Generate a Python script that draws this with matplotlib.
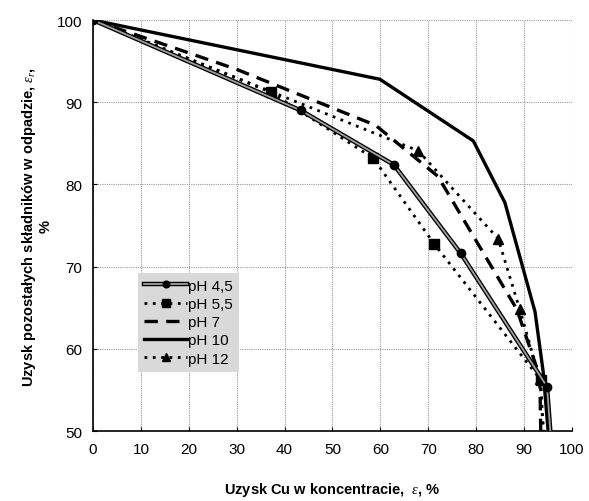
import numpy as np
import matplotlib
matplotlib.use("Agg")
import matplotlib.pyplot as plt

plt.rcParams['font.family'] = ['Liberation Sans', 'DejaVu Sans']
plt.rcParams['mathtext.fontset'] = 'custom'
plt.rcParams['mathtext.it'] = 'Liberation Serif:italic'

# Cu recovery in concentrate (x) vs recovery of other components in tailings (y)
ph45_x = [0, 43.4, 62.8, 76.8, 94.8, 96.0]
ph45_y = [100, 89.0, 82.4, 71.6, 55.4, 46.0]

ph55_x = [0, 37.2, 58.5, 71.2, 93.5, 94.2]
ph55_y = [100, 91.2, 83.2, 72.8, 56.2, 46.0]

ph7_x = [0, 30.0, 59.0, 72.0, 88.5, 93.3, 93.6]
ph7_y = [100, 94.0, 87.2, 81.0, 64.8, 56.6, 46.0]

ph10_x = [0, 59.9, 79.4, 86.0, 92.3, 94.0, 95.6]
ph10_y = [100, 92.8, 85.3, 77.8, 64.5, 57.2, 46.0]

ph12_x = [0, 67.9, 84.6, 89.1, 93.3, 94.6]
ph12_y = [100, 84.1, 73.4, 64.8, 56.3, 46.0]

labels = ["pH 4,5", "pH 5,5", "pH 7", "pH 10", "pH 12"]

fig = plt.figure(figsize=(5.89, 5.02), dpi=100)
ax = fig.add_axes([0.158, 0.1394, 0.813, 0.8186])

# pH 4,5: double line (black outline, grey core) with circles
l45a, = ax.plot(ph45_x, ph45_y, color='black', lw=3.2, zorder=3)
l45b, = ax.plot(ph45_x, ph45_y, color='#a0a0a0', lw=1.3, zorder=4)
l45m, = ax.plot(ph45_x[:-1], ph45_y[:-1], ls='none', marker='o', ms=6,
                color='black', zorder=5)

l55, = ax.plot(ph55_x, ph55_y, color='black', lw=2, ls=(0, (1, 2)),
               marker='s', ms=6.5, markevery=list(range(1, 5)), zorder=3)
l7, = ax.plot(ph7_x, ph7_y, color='black', lw=2.4, ls=(0, (4, 2.5)), zorder=3)
l10, = ax.plot(ph10_x, ph10_y, color='black', lw=2.4, zorder=3)
l12, = ax.plot(ph12_x, ph12_y, color='black', lw=2, ls=(0, (1, 2)),
               marker='^', ms=6.5, markevery=list(range(1, 5)), zorder=3)

ax.set_xlim(0, 100)
ax.set_ylim(50, 100)
ax.set_xticks(np.arange(0, 101, 10))
ax.set_yticks(np.arange(50, 101, 10))
ax.tick_params(direction='in', length=3, labelsize=11, colors='black', pad=8)
ax.grid(True, color='#999999', ls=(0, (1, 1)), lw=0.8)
ax.spines['top'].set_visible(False)
ax.spines['right'].set_visible(False)
for s in ('left', 'bottom'):
    ax.spines[s].set_linewidth(1.2)

ax.set_xlabel(r"Uzysk Cu w koncentracie,  $\it{\varepsilon}$, %",
              fontsize=10.5, fontweight='bold', labelpad=17)
ax.set_ylabel("Uzysk pozostałych składników w odpadzie, $\\it{\\varepsilon_r}$,\n%",
              fontsize=10.5, fontweight='bold', labelpad=3, linespacing=1.0)

leg = ax.legend([(l45a, l45b, l45m), l55, l7, l10, l12], labels,
                loc='lower left', bbox_to_anchor=(0.094, 0.144),
                borderaxespad=0, fontsize=11, frameon=True, fancybox=False,
                handlelength=2.8, handletextpad=0.1, borderpad=0.4,
                labelspacing=0.28, markerscale=0.8)
leg.get_frame().set_facecolor('#d9d9d9')
leg.get_frame().set_edgecolor('none')
leg.get_frame().set_alpha(1)

fig.savefig("out.png", dpi=100)
